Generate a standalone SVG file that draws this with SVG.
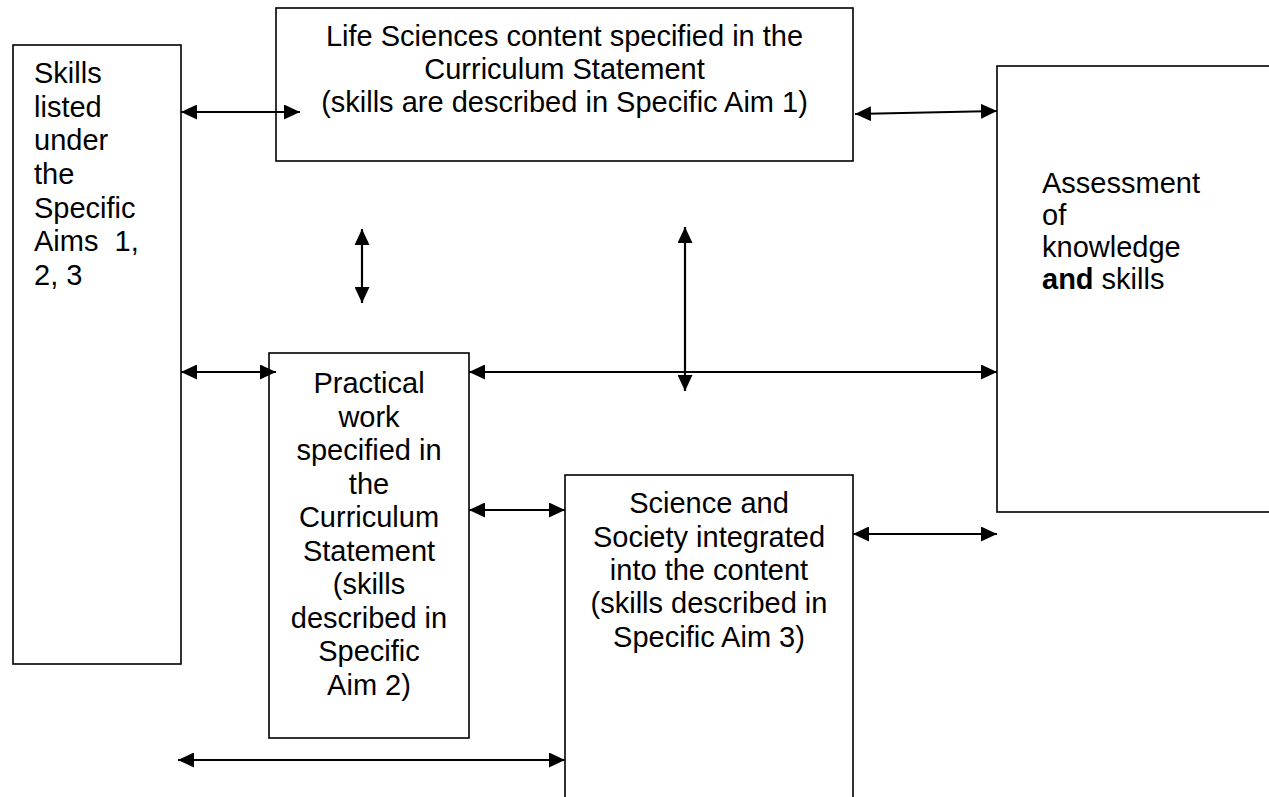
<svg xmlns="http://www.w3.org/2000/svg" width="1269" height="797" viewBox="0 0 1269 797">
<style>
.box{fill:#fff;stroke:#000;stroke-width:1.6}
.t{font-family:"Liberation Sans",Arial,sans-serif;font-size:29px;fill:#000}
.c{text-anchor:middle}
.cn{stroke:#000;stroke-width:2.2;fill:none;marker-start:url(#ah);marker-end:url(#ah)}
</style>
<defs>
<marker id="ah" markerUnits="userSpaceOnUse" markerWidth="16" markerHeight="15" refX="16" refY="7.5" orient="auto-start-reverse">
<path d="M0,0 L16,7.5 L0,15 z" fill="#000"/>
</marker>
</defs>
<rect width="1269" height="797" fill="#fff"/>
<g id="skills">
<rect class="box" x="13" y="45" width="168" height="619"/>
<text class="t" xml:space="preserve"><tspan x="34" y="83">Skills</tspan><tspan x="34" y="117">listed</tspan><tspan x="34" y="150">under</tspan><tspan x="34" y="184">the</tspan><tspan x="34" y="218">Specific</tspan><tspan x="34" y="251">Aims  1,</tspan><tspan x="34" y="285">2, 3</tspan></text>
</g>
<g id="content">
<rect class="box" x="276" y="8" width="577" height="153"/>
<text class="t c"><tspan x="564.5" y="46">Life Sciences content specified in the</tspan><tspan x="564.5" y="79">Curriculum Statement</tspan><tspan x="564.5" y="112">(skills are described in Specific Aim 1)</tspan></text>
</g>
<g id="assessment">
<rect class="box" x="997" y="66" width="300" height="446"/>
<text class="t"><tspan x="1042" y="193">Assessment</tspan><tspan x="1042" y="225">of</tspan><tspan x="1042" y="257">knowledge</tspan><tspan x="1042" y="289" font-weight="bold">and</tspan><tspan> skills</tspan></text>
</g>
<g id="practical">
<rect class="box" x="269" y="353" width="200" height="385"/>
<text class="t c"><tspan x="369" y="393">Practical</tspan><tspan x="369" y="426.5">work</tspan><tspan x="369" y="460">specified in</tspan><tspan x="369" y="493.5">the</tspan><tspan x="369" y="527">Curriculum</tspan><tspan x="369" y="560.5">Statement</tspan><tspan x="369" y="594">(skills</tspan><tspan x="369" y="627.5">described in</tspan><tspan x="369" y="661">Specific</tspan><tspan x="369" y="694.5">Aim 2)</tspan></text>
</g>
<g id="society">
<rect class="box" x="565" y="475" width="288" height="340"/>
<text class="t c"><tspan x="709" y="513">Science and</tspan><tspan x="709" y="547">Society integrated</tspan><tspan x="709" y="580">into the content</tspan><tspan x="709" y="613">(skills described in</tspan><tspan x="709" y="647">Specific Aim 3)</tspan></text>
</g>
<g id="connectors">
<line class="cn" x1="181" y1="112" x2="300" y2="112"/>
<line class="cn" x1="855" y1="114" x2="997" y2="111"/>
<line class="cn" x1="362" y1="229" x2="362" y2="303"/>
<line class="cn" x1="685" y1="227" x2="685" y2="391"/>
<line class="cn" x1="181" y1="372" x2="276" y2="372"/>
<line class="cn" x1="469" y1="372" x2="997" y2="372"/>
<line class="cn" x1="469" y1="510" x2="565" y2="510"/>
<line class="cn" x1="853" y1="534" x2="997" y2="534"/>
<line class="cn" x1="178" y1="760" x2="565" y2="760"/>
</g>
</svg>
